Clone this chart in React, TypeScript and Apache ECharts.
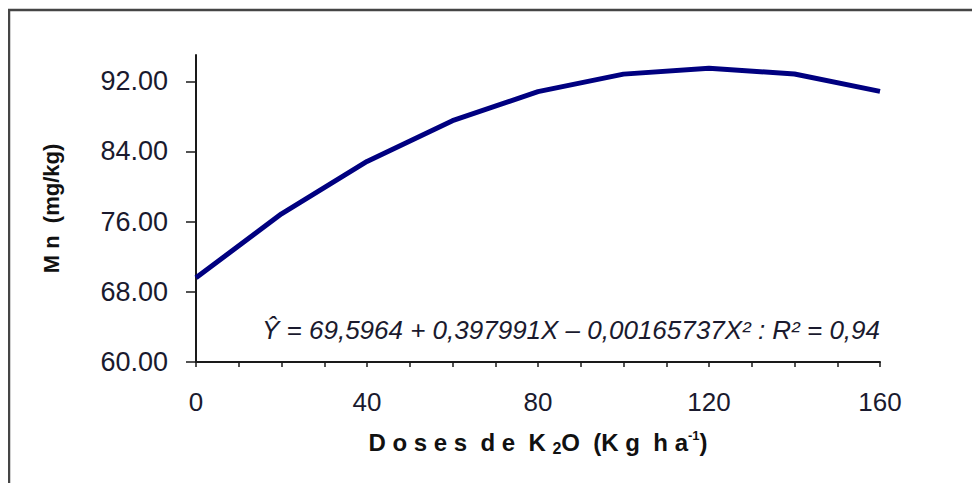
import React, { useEffect, useRef } from "react";
import * as echarts from "echarts";

// Doses of K2O (kg/ha) and the Mn curve
const doses = [0, 20, 40, 60, 80, 100, 120, 140, 160];
const mnValues = [69.6, 76.9, 82.86, 87.51, 90.83, 92.82, 93.49, 92.83, 90.85];
const yTickValues = [60, 68, 76, 84, 92];
const xLabelValues = [0, 40, 80, 120, 160];
const equationText = "Ŷ = 69,5964 + 0,397991X – 0,00165737X² : R² = 0,94";

export default function App() {
  const ref = useRef<HTMLDivElement>(null);
  useEffect(() => {
    if (!ref.current) return;
    const chart = echarts.init(ref.current, undefined, { renderer: "svg" });
    const labelFont = "'Liberation Sans', Arial, sans-serif";
    chart.setOption({
      animation: false,
      backgroundColor: "#ffffff",
      grid: { left: 188, top: 47, right: 108, bottom: 129, containLabel: false },
      xAxis: {
        type: "value",
        min: 0,
        max: 160,
        interval: 10,
        splitLine: { show: false },
        axisLine: { lineStyle: { color: "#1a1a1a", width: 2 } },
        axisTick: { length: 5, lineStyle: { color: "#1a1a1a", width: 1.5 } },
        axisLabel: {
          customValues: xLabelValues,
          margin: 27,
          fontSize: 26,
          fontFamily: labelFont,
          color: "#1a1a2e",
        },
        name: "{t|D o s e s  d e  K }{sub|2}{t|O  (K g  h a}{sup|-1}{t|)}",
        nameLocation: "middle",
        nameGap: 66,
        nameTextStyle: {
          rich: {
            t: { fontSize: 24, fontWeight: "bold", fontFamily: labelFont, color: "#111" },
            sub: { fontSize: 16, fontWeight: "bold", fontFamily: labelFont, color: "#111", padding: [12, 0, 0, 0] },
            sup: { fontSize: 13, fontWeight: "bold", fontFamily: labelFont, color: "#111", padding: [0, 0, 14, 0] },
          },
        },
      },
      yAxis: {
        type: "value",
        min: 60,
        max: 95,
        splitLine: { show: false },
        axisLine: { show: true, lineStyle: { color: "#1a1a1a", width: 2 } },
        axisTick: { show: true, length: 10, customValues: yTickValues, lineStyle: { color: "#1a1a1a", width: 1.5 } },
        axisLabel: {
          customValues: yTickValues,
          margin: 28,
          fontSize: 27,
          fontFamily: labelFont,
          color: "#1a1a2e",
          formatter: (v: number) => v.toFixed(2),
        },
        name: "M n  (mg/kg)",
        nameLocation: "middle",
        nameGap: 134,
        nameRotate: 90,
        nameTextStyle: { fontSize: 22, fontWeight: "bold", fontFamily: labelFont, color: "#111" },
      },
      series: [
        {
          type: "line",
          data: doses.map((d, i) => [d, mnValues[i]]),
          showSymbol: false,
          smooth: false,
          lineStyle: { color: "#000080", width: 5 },
        },
      ],
      graphic: [
        {
          type: "rect",
          shape: { x: 1, y: 2, width: 1000, height: 600 },
          style: { fill: "none", stroke: "#454545", lineWidth: 2.5 },
          silent: true,
        },
        {
          type: "text",
          x: 872,
          y: 322,
          style: {
            text: equationText,
            fontSize: 26,
            fontStyle: "italic",
            fontFamily: labelFont,
            fill: "#1a1a2e",
            align: "right",
            verticalAlign: "middle",
          },
        },
      ],
    });
    return () => chart.dispose();
  }, []);
  return <div ref={ref} style={{ width: 980, height: 483 }} />;
}
